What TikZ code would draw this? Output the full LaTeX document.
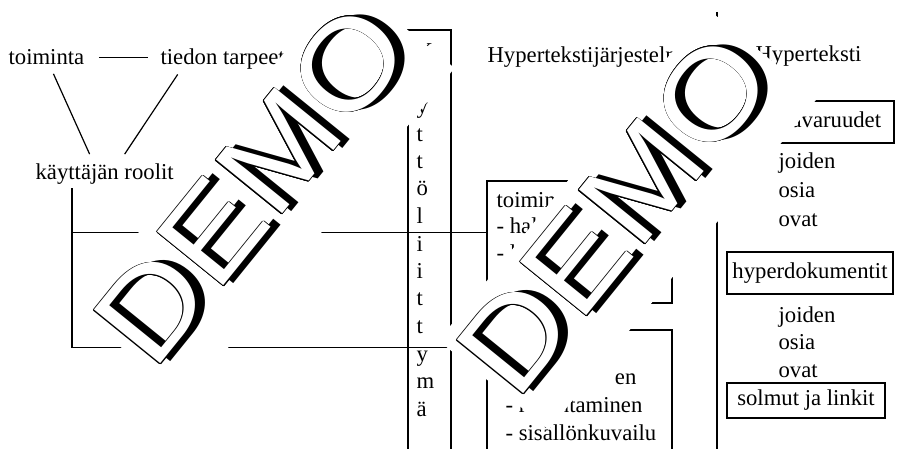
\documentclass[tikz,border=0pt]{standalone}
\usepackage{fontspec}
\setmainfont{Liberation Serif}
\newfontfamily\wmfont{Liberation Sans}
\usetikzlibrary{calc}

\begin{document}
\begin{tikzpicture}[x=0.5pt, y=-0.5pt, line width=0.6pt,
    txt/.style={inner sep=0pt, font=\fontsize{11.35}{13.6}\selectfont},
    box/.style={draw, inner sep=0pt, font=\fontsize{11.35}{13.6}\selectfont},
    wm/.style={anchor=base west, inner sep=0pt, xscale=1.12,
               font=\wmfont\fontsize{62}{62}\selectfont}]
  \useasboundingbox (0,0) rectangle (906,449);
  \clip (0,0) rectangle (906,449);

  \node[txt, anchor=base west] (toim) at (8,65) {toiminta};
  \node[txt, anchor=base west] (tarve) at (160,65) {tiedon tarpeet};
  \node[txt, anchor=base west] (rooli) at (35,180) {käyttäjän roolit};
  \draw[shorten <=7pt, shorten >=6pt] (toim.east) -- (toim.east -| tarve.west);
  \draw ($(toim.south)+(7,8)$) -- ($(rooli.north)+(-15,-9.5)$);
  \draw ($(tarve.south)+(-45,4)$) -- ($(rooli.north)+(20,-9.5)$);

  \node[box, minimum width=21.5pt, minimum height=220pt] (ui) at (429.5,250) {};
  \foreach \c [count=\i from 0] in {K,ä,y,t,t,ö,l,i,i,t,t,y,m,ä}
    \node[txt, anchor=base west] (ui\i) at (416,{58.5+27.5*\i}) {\c};

  \node[txt, anchor=base west] (hjs) at (487,63) {Hypertekstijärjestelmä};
  \node[box, minimum width=92.5pt, minimum height=61pt] (tbox) at (579.5,242) {};
  \node[txt, anchor=base west] (t1) at (496,207) {toimin};
  \node[txt, anchor=base west] (t2) at (496,234) {- hal};
  \node[txt, anchor=base west] (t3) at (496,261) {- l};
  \node[box, minimum width=92.5pt, minimum height=70pt] (rbox) at (579.5,400) {};
  \node[txt, anchor=base east] (r1) at (637,384) {en};
  \node[txt, anchor=base west] (r2) at (505,412) {- rakentaminen};
  \node[txt, anchor=base west] (r3) at (505,440) {- sisällönkuvailu};

  \coordinate (split) at ($(rooli.south west)+(37,3)$);
  \draw (split) |- ($(tbox.north west)+(0,52)$);
  \draw (split) |- ($(rbox.north west)+(0,18)$);

  \node[txt, anchor=base west] (ht) at (755,62) {Hyperteksti};
  \coordinate (septop) at (717,12);
  \coordinate (sepbot) at (717,470);
  \draw (septop) -- (sepbot);
  \node[box, minimum width=83.5pt, minimum height=21pt] (avar) at (810.5,122) {hyperavaruudet};
  \node[txt, anchor=base west] (j1) at (778,169) {joiden};
  \node[txt, anchor=base west] (o1) at (778,198) {osia};
  \node[txt, anchor=base west] (v1) at (778,227) {ovat};
  \node[box, minimum width=83pt, minimum height=21pt] (hdok) at (810,273) {hyperdokumentit};
  \node[txt, anchor=base west] (j2) at (778,322) {joiden};
  \node[txt, anchor=base west] (o2) at (778,350) {osia};
  \node[txt, anchor=base west] (v2) at (778,377) {ovat};
  \node[box, minimum width=79pt, minimum height=17.5pt] (solm) at (806,400.5) {solmut ja linkit};

  \foreach \ox/\oy in {153.2/373.4, 516.2/403.4} {
    \begin{scope}[shift={(\ox,\oy)}, rotate=51, transform shape]
      \fill[white] (0,-100) rectangle (427,42);
      \node[wm, black] (wshadow) at (7.5,6) {DEMO};
      \foreach \a in {0,30,...,330}
        \node[wm, black] (wline) at (\a:0.75) {DEMO};
      \node[wm, white] (wfill) at (0,0) {DEMO};
    \end{scope}
  }
\end{tikzpicture}
\end{document}
